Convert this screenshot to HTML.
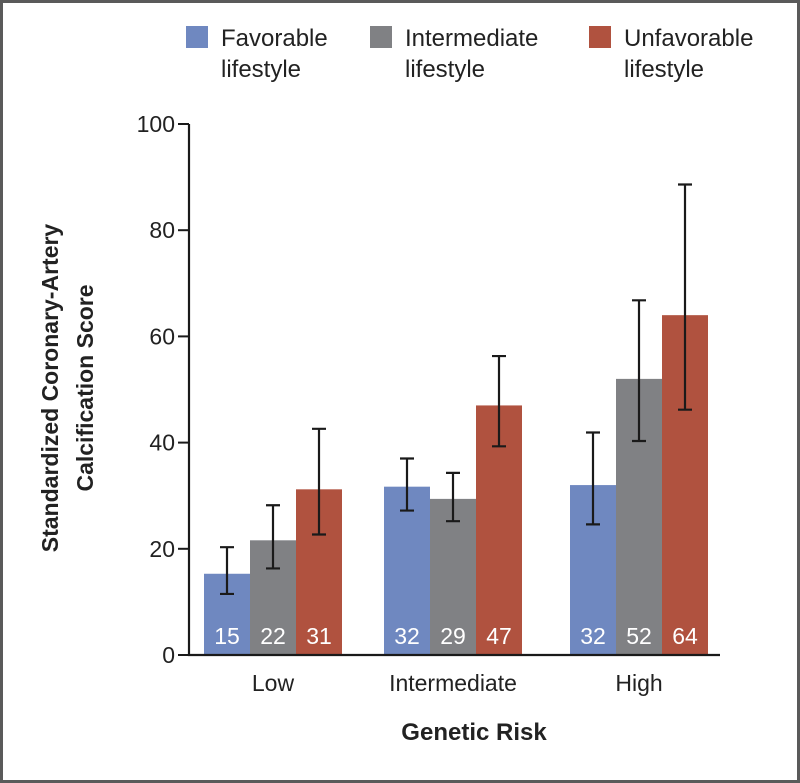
<!DOCTYPE html>
<html><head><meta charset="utf-8"><style>
html,body{margin:0;padding:0;background:#fff;}
#frame{position:relative;width:794px;height:777px;border:3px solid #5a5a5a;background:#fff;overflow:hidden;}
svg{position:absolute;left:-3px;top:-3px;}
text{font-family:"Liberation Sans","DejaVu Sans",sans-serif;}
</style></head><body>
<div id="frame">
<svg id="chart" width="800" height="783" viewBox="0 0 800 783">
  <g>
    <rect x="186" y="26" width="22" height="22" fill="#6f88c0"/>
    <text x="221" y="46" font-size="24" fill="#222">Favorable</text>
    <text x="221" y="77" font-size="24" fill="#222">lifestyle</text>
    <rect x="370" y="26" width="22" height="22" fill="#808184"/>
    <text x="405" y="46" font-size="24" fill="#222">Intermediate</text>
    <text x="405" y="77" font-size="24" fill="#222">lifestyle</text>
    <rect x="589" y="26" width="22" height="22" fill="#b0523f"/>
    <text x="624" y="46" font-size="24" fill="#222">Unfavorable</text>
    <text x="624" y="77" font-size="24" fill="#222">lifestyle</text>
  </g>
  <g transform="translate(0,388) rotate(-90)">
    <text x="0" y="58" text-anchor="middle" font-size="23" font-weight="bold" fill="#222">Standardized Coronary-Artery</text>
    <text x="0" y="93" text-anchor="middle" font-size="23" font-weight="bold" fill="#222">Calcification Score</text>
  </g>
  <text x="474" y="740" text-anchor="middle" font-size="24" font-weight="bold" fill="#222">Genetic Risk</text>
  <g id="plot"></g>
</svg>
</div>
<script>
const categories = ["Low","Intermediate","High"];
const seriesNames = ["Favorable lifestyle","Intermediate lifestyle","Unfavorable lifestyle"];
const favorable = [15.3, 31.7, 32.0];
const intermediate = [21.6, 29.4, 52.0];
const unfavorable = [31.2, 47.0, 64.0];
const favLow = [11.5, 27.2, 24.6];
const favHigh = [20.3, 37.0, 41.9];
const intLow = [16.3, 25.2, 40.3];
const intHigh = [28.2, 34.3, 66.8];
const unfLow = [22.7, 39.3, 46.2];
const unfHigh = [42.6, 56.3, 88.6];
const printedLabels = [["15","22","31"],["32","29","47"],["32","52","64"]];
const yTicks = [0,20,40,60,80,100];

const NS = "http://www.w3.org/2000/svg";
const plot = document.getElementById("plot");
const axisX = 189, y0 = 655, pxPerUnit = 5.31;
const groupStart = [204, 384, 570];
const barW = 46;
function y(v){ return y0 - v * pxPerUnit; }
function xBar(gi, si){ return groupStart[gi] + si * barW; }
function mk(tag, attrs){ const e=document.createElementNS(NS,tag); for(const k in attrs) e.setAttribute(k,attrs[k]); plot.appendChild(e); return e; }

const colors = ["#6f88c0","#808184","#b0523f"];
const vals = [favorable, intermediate, unfavorable];
const lows = [favLow, intLow, unfLow];
const highs = [favHigh, intHigh, unfHigh];

for (let g=0; g<categories.length; g++){
  for (let s=0; s<3; s++){
    const v = vals[s][g];
    const bx = xBar(g,s);
    const r = mk("rect",{x:bx,y:y(v),width:barW,height:y0-y(v),fill:colors[s]});
    
    
    const cx = bx + barW/2;
    const eb = mk("path",{d:`M${cx},${y(lows[s][g])}V${y(highs[s][g])}M${cx-7},${y(lows[s][g])}H${cx+7}M${cx-7},${y(highs[s][g])}H${cx+7}`,stroke:"#1a1a1a","stroke-width":2.2,fill:"none"});
    
    
    const t = mk("text",{x:cx,y:y0-11,"text-anchor":"middle","font-size":23,fill:"#fff"});
    t.textContent = printedLabels[g][s];
    
    
  }
  const cx = groupStart[g] + barW*1.5;
  const lab = mk("text",{x:cx,y:691,"text-anchor":"middle","font-size":23,fill:"#222"});
  lab.textContent = categories[g];
  
  
}
const ax = mk("path",{d:`M${axisX},${y(100)}V${y0}H720`,stroke:"#1a1a1a","stroke-width":2.2,fill:"none"});


for (const tv of yTicks){
  const tk = mk("path",{d:`M${axisX-11},${y(tv)}H${axisX}`,stroke:"#1a1a1a","stroke-width":2});
  
  
  const tl = mk("text",{x:axisX-14,y:y(tv)+8,"text-anchor":"end","font-size":23,fill:"#222"});
  tl.textContent = tv;
  
  
}
</script>
</body></html>
